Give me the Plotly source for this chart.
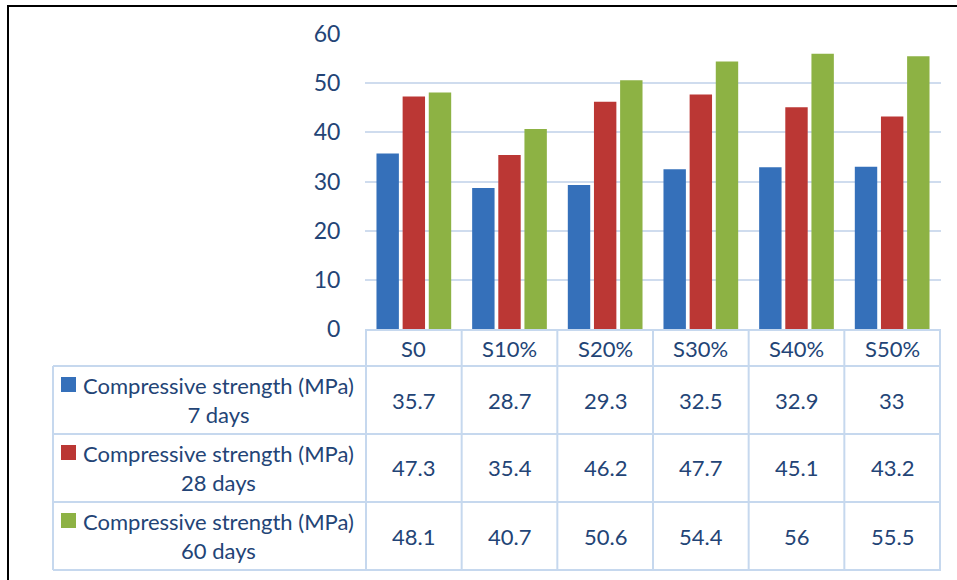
import plotly.graph_objects as go

# ---- data ----
categories = ["S0", "S10%", "S20%", "S30%", "S40%", "S50%"]
series_names = [
    "Compressive strength (MPa)<br>7 days",
    "Compressive strength (MPa)<br>28 days",
    "Compressive strength (MPa)<br>60 days",
]
strength_7d = [35.7, 28.7, 29.3, 32.5, 32.9, 33]
strength_28d = [47.3, 35.4, 46.2, 47.7, 45.1, 43.2]
strength_60d = [48.1, 40.7, 50.6, 54.4, 56, 55.5]
y_ticks = [0, 10, 20, 30, 40, 50, 60]

series_values = [strength_7d, strength_28d, strength_60d]
colors = ["#3570ba", "#bb3734", "#8db244"]

W, H = 957, 580
FONT = "Lato"
TXT = "#234476"
GRID = "#cfdcee"
LINE = "#c6d8ee"
FS = 22

def px(x):
    return x / W

def py(y):
    return 1 - y / H

x_dom = [px(365), px(941)]
y_dom = [py(329), py(34)]

fig = go.Figure()
for name, vals, col in zip(series_names, series_values, colors):
    fig.add_trace(go.Bar(
        x=categories, y=vals, name=name.replace("<br>", " "),
        marker=dict(color=col, line=dict(width=0)),
        showlegend=False, hoverinfo="y",
    ))

shapes = []
annotations = []

# outer frame
shapes.append(dict(type="rect", xref="paper", yref="paper",
                   x0=px(8), x1=px(962), y0=py(586), y1=py(6),
                   line=dict(color="black", width=2), layer="below"))

header_top, header_bot = 330, 366
row_edges = [366, 434, 502, 570]
left_edge = 53

shapes.append(dict(type="line", xref="paper", yref="paper",
                   x0=x_dom[0], x1=x_dom[1], y0=py(header_top), y1=py(header_top),
                   line=dict(color=LINE, width=2)))
for ry in row_edges:
    shapes.append(dict(type="line", xref="paper", yref="paper",
                       x0=px(left_edge), x1=x_dom[1], y0=py(ry), y1=py(ry),
                       line=dict(color=LINE, width=2)))
shapes.append(dict(type="line", xref="paper", yref="paper",
                   x0=px(left_edge), x1=px(left_edge), y0=py(row_edges[0]), y1=py(row_edges[-1]),
                   line=dict(color=LINE, width=2)))
for i in range(len(categories) + 1):
    shapes.append(dict(type="line", xref="x", yref="paper",
                       x0=i - 0.5, x1=i - 0.5, y0=py(header_top), y1=py(row_edges[-1]),
                       line=dict(color=LINE, width=2)))

for c in categories:
    annotations.append(dict(x=c, xref="x", y=py((header_top + header_bot) / 2), yref="paper",
                            text=c, showarrow=False, font=dict(family=FONT, size=FS, color=TXT),
                            xanchor="center", yanchor="middle"))

for r, (name, vals, col) in enumerate(zip(series_names, series_values, colors)):
    cy = (row_edges[r] + row_edges[r + 1]) / 2
    for c, v in zip(categories, vals):
        annotations.append(dict(x=c, xref="x", y=py(cy), yref="paper",
                                text=f"{v:g}", showarrow=False,
                                font=dict(family=FONT, size=FS, color=TXT),
                                xanchor="center", yanchor="middle"))
    annotations.append(dict(x=px(218.5), xref="paper", y=py(cy), yref="paper",
                            text=name, showarrow=False, align="center",
                            font=dict(family=FONT, size=FS, color=TXT),
                            xanchor="center", yanchor="middle"))
    shapes.append(dict(type="rect", xref="paper", yref="paper",
                       x0=px(61), x1=px(76), y0=py(cy - 8), y1=py(cy - 23),
                       fillcolor=col, line=dict(width=0)))

fig.update_layout(
    width=W, height=H,
    margin=dict(l=0, r=0, t=0, b=0, pad=0, autoexpand=False),
    paper_bgcolor="white", plot_bgcolor="white",
    barmode="group", bargap=0.18, bargroupgap=0.143,
    font=dict(family=FONT, size=FS, color=TXT),
    xaxis=dict(domain=x_dom, showticklabels=False, showgrid=False, zeroline=False,
               showline=False, ticks="", fixedrange=True, automargin=False),
    yaxis=dict(domain=y_dom, range=[0, 60], tickvals=y_ticks,
               showgrid=True, gridcolor=GRID, gridwidth=2,
               zeroline=False, showline=False, automargin=False,
               ticks="outside", ticklen=19, tickcolor="rgba(0,0,0,0)",
               tickfont=dict(family=FONT, size=FS + 1, color=TXT), fixedrange=True),
    shapes=shapes, annotations=annotations,
)

fig.write_html(
    "out.html",
    config={"displayModeBar": False, "responsive": False},
    post_script=(
        "document.documentElement.style.overflow='hidden';"
        "document.body.style.margin='0';document.body.style.padding='0';"
        "document.body.style.overflow='hidden';"
    ),
)
